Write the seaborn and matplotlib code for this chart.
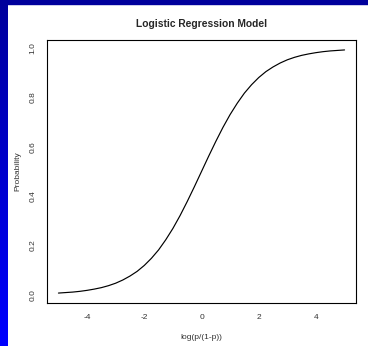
import numpy as np
import pandas as pd
import seaborn as sns
import matplotlib
matplotlib.use("Agg")
import matplotlib.pyplot as plt

# values
log_odds = [-5.0, -4.75, -4.5, -4.25, -4.0, -3.75, -3.5, -3.25, -3.0, -2.75,
            -2.5, -2.25, -2.0, -1.75, -1.5, -1.25, -1.0, -0.75, -0.5, -0.25,
            0.0, 0.25, 0.5, 0.75, 1.0, 1.25, 1.5, 1.75, 2.0, 2.25,
            2.5, 2.75, 3.0, 3.25, 3.5, 3.75, 4.0, 4.25, 4.5, 4.75, 5.0]
probability = [0.007, 0.009, 0.011, 0.014, 0.018, 0.023, 0.029, 0.037, 0.047, 0.060,
               0.076, 0.095, 0.119, 0.148, 0.182, 0.223, 0.269, 0.321, 0.378, 0.438,
               0.500, 0.562, 0.622, 0.679, 0.731, 0.777, 0.818, 0.852, 0.881, 0.905,
               0.924, 0.940, 0.953, 0.963, 0.971, 0.977, 0.982, 0.986, 0.989, 0.991, 0.993]
x_ticks = [-4, -2, 0, 2, 4]
y_ticks = [0.0, 0.2, 0.4, 0.6, 0.8, 1.0]

df = pd.DataFrame({"x": log_odds, "p": probability})

sns.set_style("white")
plt.rcParams["font.family"] = ["Liberation Sans", "DejaVu Sans"]

fig = plt.figure(figsize=(3.68, 3.46), dpi=100)
fig.patch.set_facecolor("white")

# blue frame: gradient strip on the left, dark strip on top
strip = fig.add_axes([0, 0, 8 / 368, 1])
grad = np.linspace(1, 0, 256).reshape(-1, 1)
cmap = matplotlib.colors.LinearSegmentedColormap.from_list("b", ["#0000ff", "#00009c"])
strip.imshow(grad, aspect="auto", cmap=cmap, extent=[0, 1, 0, 1])
strip.axis("off")
fig.patches.append(plt.Rectangle((0, 1 - 4 / 346), 1, 4 / 346, transform=fig.transFigure,
                                 color="#00009c", zorder=0))

ax = fig.add_axes([47 / 368, 43 / 346, 309 / 368, 263 / 346])
sns.lineplot(data=df, x="x", y="p", color="black", lw=0.85, ax=ax)

ax.set_xlim(-5.4, 5.4)
ax.set_ylim(-0.0333, 1.0333)
ax.set_xticks(x_ticks)
ax.set_xticklabels([str(t) for t in x_ticks])
ax.set_yticks(y_ticks)
ax.set_yticklabels([f"{t:.1f}" for t in y_ticks], rotation=90, va="center")
ax.tick_params(labelsize=6, length=3.6, width=0.7, pad=4, colors="black", labelcolor="#333333")
for s in ax.spines.values():
    s.set_linewidth(0.8)
    s.set_color("black")

ax.set_xlabel("log(p/(1-p))", fontsize=6, color="#333333", labelpad=10)
ax.set_ylabel("Probability", fontsize=6, color="#333333", labelpad=6)
fig.text(202 / 368, 1 - 24 / 346, "Logistic Regression Model", ha="center", va="center",
         fontsize=7.4, fontweight="bold")

fig.savefig("out.png", dpi=100)
